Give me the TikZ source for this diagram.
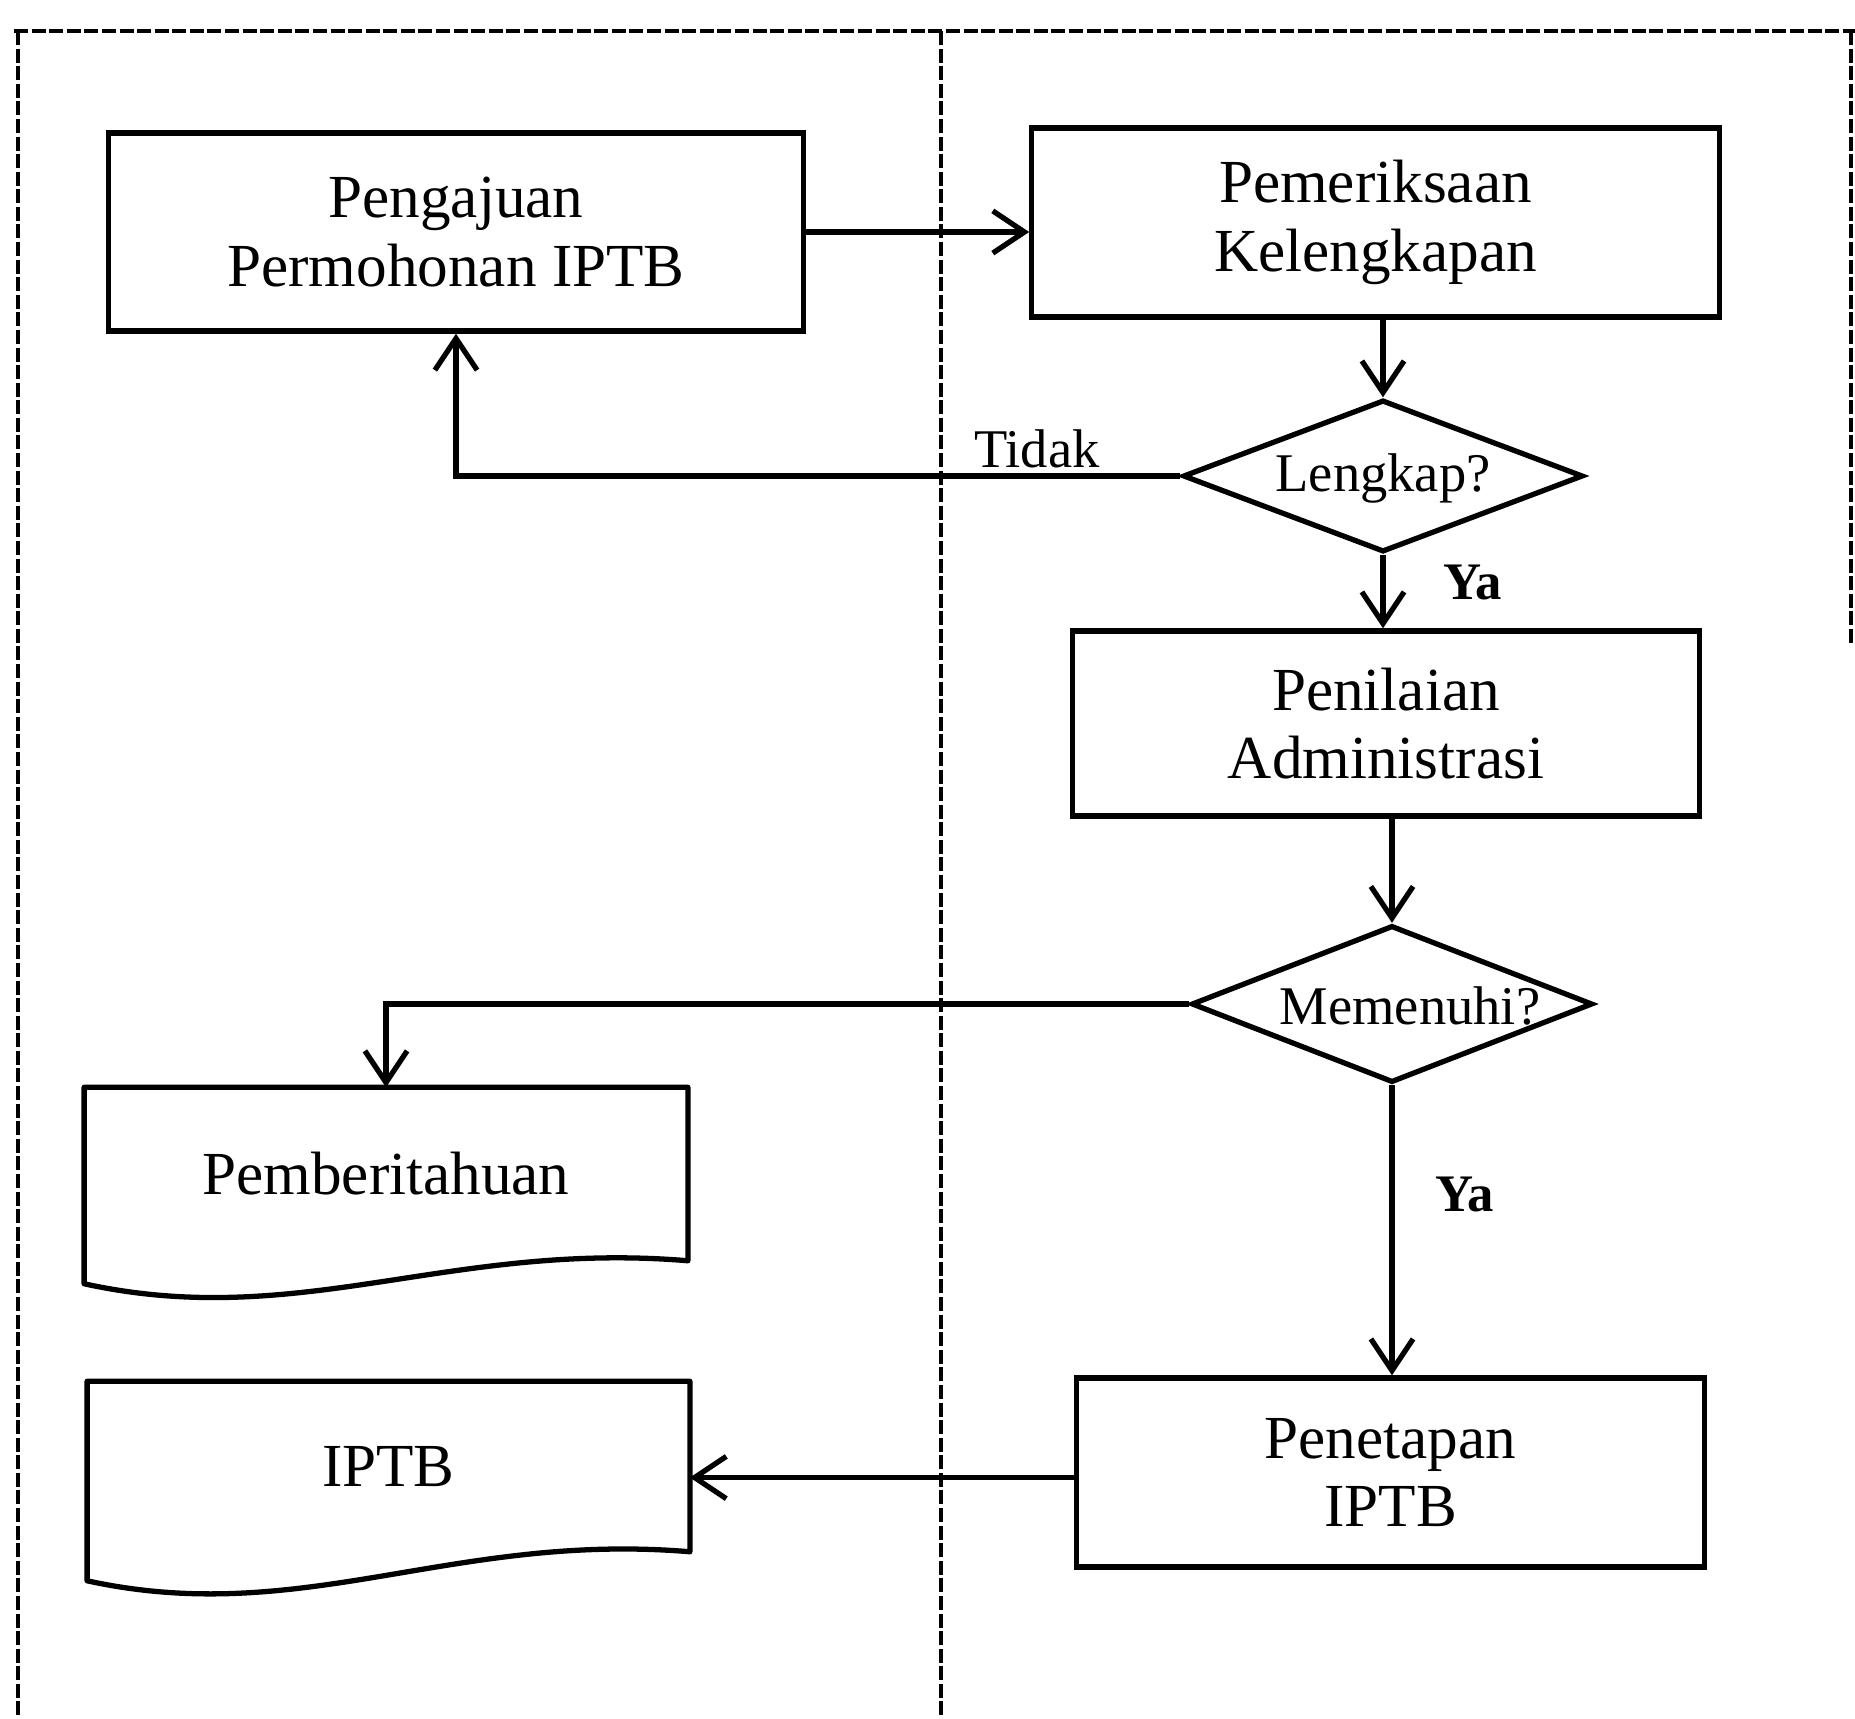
\documentclass[tikz,border=0pt]{standalone}
\usepackage{fontspec}
\setmainfont{Liberation Serif}
\usetikzlibrary{shapes.geometric,arrows.meta,calc}
\begin{document}
\begin{tikzpicture}[x=0.01cm,y=-0.01cm,
  box/.style={draw,line width=1.5pt,rectangle,inner sep=0pt,align=center,
    font=\fontsize{17.4}{19.5}\selectfont},
  decision/.style={draw,line width=1.5pt,diamond,inner sep=0pt,aspect=2.6},
  doctext/.style={rectangle,inner sep=0pt,align=center,
    font=\fontsize{17.4}{19.5}\selectfont},
  dtext/.style={inner sep=0pt,font=\fontsize{15.5}{18}\selectfont},
  lbl/.style={inner sep=0pt,font=\fontsize{15.5}{18}\selectfont},
  ylbl/.style={inner sep=0pt,font=\fontsize{15}{18}\selectfont\bfseries},
  arr/.style={line width=1.5pt,-{Straight Barb[length=9pt,width=12pt,line width=1.5pt]}},
  frame/.style={line width=0.9pt,dash pattern=on 4pt off 1pt}]
\useasboundingbox (0,0) rectangle (1855,1718);
\fill[white] (0,0) rectangle (1855,1718);
% frame
\draw[frame] (14,31) -- (1855,31);
\draw[frame] (18,31) -- (18,1718);
\draw[frame] (941,31) -- (941,1718);
\draw[frame] (1851,31) -- (1851,645);
% nodes
\node[box,minimum width=6.94cm,minimum height=1.98cm] (b1) at (456,232) {Pengajuan\\Permohonan IPTB};
\node[box,minimum width=6.87cm,minimum height=1.89cm] (b2) at (1375.5,222.5) {Pemeriksaan\\Kelengkapan};
\node[decision,minimum width=4.0cm,minimum height=1.52cm] (d1) at (1383,476) {};
\node[dtext] (d1t) at (1383,478) {Lengkap?};
\node[box,minimum width=6.26cm,minimum height=1.85cm] (b3) at (1386,723.5) {Penilaian\\Administrasi};
\node[decision,minimum width=4.01cm,minimum height=1.57cm] (d2) at (1392,1004) {};
\node[dtext] (d2t) at (1410,1006) {Memenuhi?};
\node[box,minimum width=6.27cm,minimum height=1.89cm] (b4) at (1390.5,1472.5) {Penetapan\\IPTB};
\node[doctext,minimum width=6.02cm,minimum height=1.72cm] (pem) at (386,1174) {Pemberitahuan};
\draw[line width=1.5pt,line join=round] (pem.south east) -- (pem.north east) -- (pem.north west)
  -- ($(pem.south west)+(0,23)$)
  .. controls ($(pem.south west)+(215,70)$) and ($(pem.south west)+(365,-20)$) .. cycle;
\node[doctext,minimum width=6.01cm,minimum height=1.69cm] (ip) at (388.5,1466.5) {IPTB};
\draw[line width=1.5pt,line join=round] (ip.south east) -- (ip.north east) -- (ip.north west)
  -- ($(ip.south west)+(0,29)$)
  .. controls ($(ip.south west)+(215,76)$) and ($(ip.south west)+(365,-20)$) .. cycle;
% labels
\node[lbl] (tidak) at (1037,449) {Tidak};
\node[ylbl] (ya1) at (1473,582) {Ya};
\node[ylbl] (ya2) at (1465,1194) {Ya};
% connectors
\draw[arr] (b1.east) -- (b1.east -| b2.west);
\draw[arr] (d1.north |- b2.south) -- (d1.north);
\draw[arr] (d1.west) -- (b1.south |- d1.west) -- (b1.south);
\draw[arr] (d1.south) -- (d1.south |- b3.north);
\draw[arr] (d2.north |- b3.south) -- (d2.north);
\draw[arr] (d2.west) -- (pem.north |- d2.west) -- (pem.north);
\draw[arr] (d2.south) -- (d2.south |- b4.north);
\draw[arr] ($(b4.west)+(0,5)$) -- ($(b4.west -| ip.east)+(0,5)$);
\end{tikzpicture}
\end{document}
